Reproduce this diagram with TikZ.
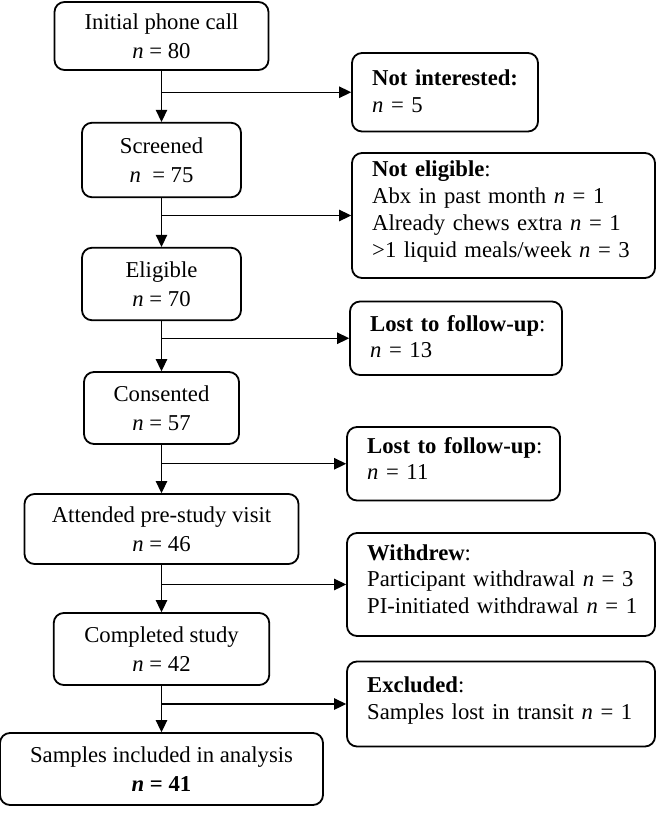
\documentclass[tikz,border=0pt]{standalone}
\usepackage{fontspec}
\setmainfont{Liberation Serif}
\usetikzlibrary{arrows.meta}
\begin{document}
\begin{tikzpicture}[x=1pt,y=-1pt,
  font=\fontsize{22.7}{29.5}\selectfont,
  lbox/.style={draw, line width=1.8pt, rounded corners=10pt, align=center, inner sep=0pt},
  rbox/.style={draw, line width=1.8pt, rounded corners=10pt, inner sep=0pt},
  rtext/.style={anchor=base west, inner sep=0pt, text width=290pt, align=left,
    font=\fontsize{22.7}{26.7}\selectfont},
  arr/.style={line width=1.3pt, -{Triangle[length=12pt,width=11.5pt]}}]
\useasboundingbox (0,0) rectangle (656,813);

% main column
\node[lbox, minimum width=214pt, minimum height=68pt] (ipc) at (161.5,36) {Initial phone call\\\textit{n} = 80};
\node[lbox, minimum width=159pt, minimum height=74.5pt] (scr) at (161.5,160) {Screened\\\textit{n}\ \ = 75};
\node[lbox, minimum width=159pt, minimum height=72.5pt] (eli) at (161.5,284) {Eligible\\\textit{n} = 70};
\node[lbox, minimum width=155pt, minimum height=72pt] (con) at (161.5,408) {Consented\\\textit{n} = 57};
\node[lbox, minimum width=274pt, minimum height=70pt] (att) at (161.5,529) {Attended pre-study visit\\\textit{n} = 46};
\node[lbox, minimum width=215.5pt, minimum height=72pt] (com) at (161.5,649) {Completed study\\\textit{n} = 42};
\node[lbox, minimum width=323pt, minimum height=72pt] (sam) at (161.5,769) {Samples included in analysis\\\textbf{\textit{n} = 41}};

% side boxes
\node[rbox, minimum width=186pt, minimum height=78.5pt] (ni) at (445,92.25) {};
\node[rbox, minimum width=303pt, minimum height=125pt] (ne) at (503.5,215.5) {};
\node[rbox, minimum width=212pt, minimum height=73.5pt] (lf1) at (456,338.25) {};
\node[rbox, minimum width=213pt, minimum height=73.5pt] (lf2) at (453.5,463.75) {};
\node[rbox, minimum width=308pt, minimum height=103pt] (wd) at (501,584.5) {};
\node[rbox, minimum width=308pt, minimum height=85pt] (ex) at (501,704) {};

% side texts
\node[rtext] (nit) at (372,86) {\textbf{Not interested:}\\\textit{n} = 5};
\node[rtext] (net) at (372,177) {\textbf{Not eligible}:\\Abx in past month \textit{n} = 1\\Already chews extra \textit{n} = 1\\>1 liquid meals/week \textit{n} = 3};
\node[rtext] (lf1t) at (370,331) {\textbf{Lost to follow-up}:\\\textit{n} = 13};
\node[rtext] (lf2t) at (367,453) {\textbf{Lost to follow-up}:\\\textit{n} = 11};
\node[rtext] (wdt) at (367,560) {\textbf{Withdrew}:\\Participant withdrawal \textit{n} = 3\\PI-initiated withdrawal \textit{n} = 1};
\node[rtext] (ext) at (367,692.5) {\textbf{Excluded}:\\Samples lost in transit \textit{n} = 1};

% vertical arrows
\draw[arr] (ipc.south) -- (scr.north);
\draw[arr] (scr.south) -- (eli.north);
\draw[arr] (eli.south) -- (con.north);
\draw[arr] (con.south) -- (att.north);
\draw[arr] (att.south) -- (com.north);
\draw[arr] (com.south) -- (sam.north);

% branch arrows
\draw[arr] (ni.west -| ipc.south) -- (ni.west);
\draw[arr] (ne.west -| scr.south) -- (ne.west);
\draw[arr] (lf1.west -| eli.south) -- (lf1.west);
\draw[arr] (lf2.west -| con.south) -- (lf2.west);
\draw[arr] (wd.west -| att.south) -- (wd.west);
\draw[arr] (ex.west -| com.south) -- (ex.west);
\end{tikzpicture}
\end{document}
